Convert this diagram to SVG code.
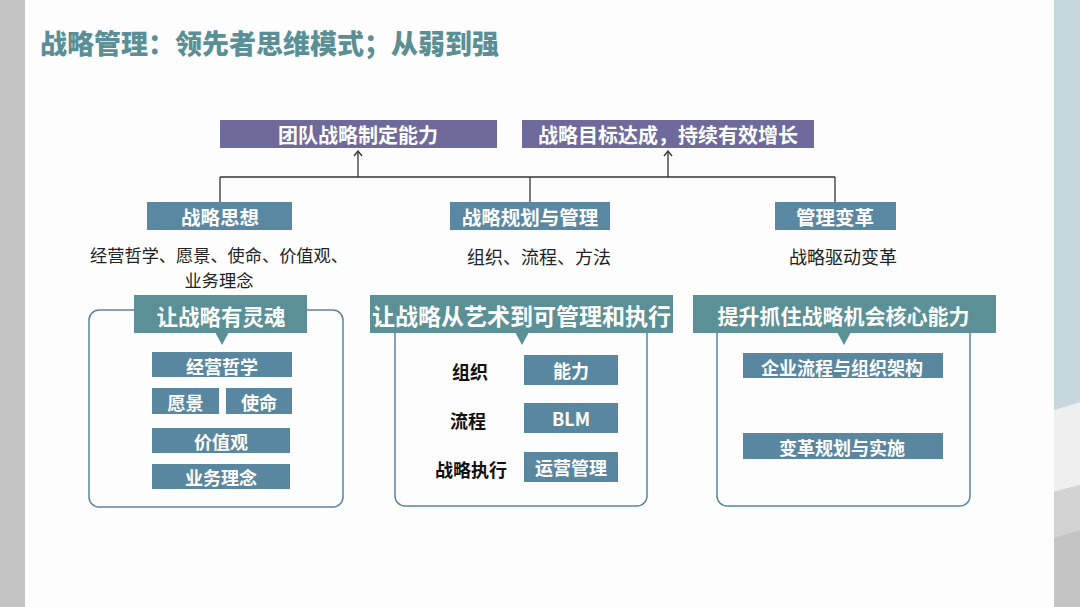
<svg xmlns="http://www.w3.org/2000/svg" width="1080" height="607" viewBox="0 0 1080 607">
<defs>
<style>
text{font-family:"Noto Sans CJK SC","Noto Sans",sans-serif;text-anchor:middle;dominant-baseline:central}
.b{font-weight:700;fill:#fff}
.purple{fill:#6e6b9c}
.l2{fill:#5a88a3}
.inner{fill:#5a87a0}
.tab{fill:#5a9096}
.panel{fill:none;stroke:#5a82a6;stroke-width:1.5}
.sub{font-size:18px;fill:#222}
.lab{font-size:18px;font-weight:700;fill:#111}
.conn{fill:none;stroke:#333;stroke-width:1.3}
</style>
<marker id="arr" viewBox="0 0 10 10" refX="9" refY="5" markerWidth="10" markerHeight="10" markerUnits="userSpaceOnUse" orient="auto">
<path d="M4,1 L9,5 L4,9" fill="none" stroke="#333" stroke-width="1.3"/>
</marker>
</defs>
<rect x="0" y="0" width="1080" height="607" fill="#fdfdfd"/>
<rect x="0" y="0" width="25" height="607" fill="#c4c4c4"/>
<rect x="1054" y="0" width="26" height="607" fill="#c4c4c4"/>
<polygon points="1054,0 1080,0 1080,402 1054,410" fill="#c6d8dd"/>
<polygon points="1054,410 1080,402 1080,485 1054,492" fill="#efefef"/>
<polygon points="1054,492 1080,485 1080,530 1054,538" fill="#d3d3d3"/>

<text x="40" y="42" style="text-anchor:start;font-size:27px;font-weight:900;fill:#5a8f95">战略管理：领先者思维模式；从弱到强</text>

<g id="connectors">
<line class="conn" x1="220" y1="177" x2="835" y2="177"/>
<line class="conn" x1="220" y1="177" x2="220" y2="203"/>
<line class="conn" x1="530" y1="177" x2="530" y2="203"/>
<line class="conn" x1="835" y1="177" x2="835" y2="203"/>
<line class="conn" x1="358" y1="177" x2="358" y2="151" marker-end="url(#arr)"/>
<line class="conn" x1="668" y1="177" x2="668" y2="151" marker-end="url(#arr)"/>
</g>

<g id="goal1">
<rect class="purple" x="220" y="120" width="277" height="28"/>
<text class="b" x="358" y="134" font-size="20">团队战略制定能力</text>
</g>
<g id="goal2">
<rect class="purple" x="522" y="120" width="292" height="28"/>
<text class="b" x="668" y="134" font-size="20">战略目标达成，持续有效增长</text>
</g>

<g id="thought">
<rect class="l2" x="147" y="202" width="145" height="28"/>
<text class="b" x="220" y="216" font-size="19.5">战略思想</text>
<text class="sub" style="font-size:17.2px"><tspan x="219" y="254">经营哲学、愿景、使命、价值观、</tspan><tspan x="219" y="279">业务理念</tspan></text>
</g>
<g id="planning">
<rect class="l2" x="450" y="202" width="160" height="28"/>
<text class="b" x="530" y="216" font-size="19.5">战略规划与管理</text>
<text class="sub" x="539" y="256">组织、流程、方法</text>
</g>
<g id="change">
<rect class="l2" x="775" y="202" width="121" height="28"/>
<text class="b" x="835" y="216" font-size="19.5">管理变革</text>
<text class="sub" x="843" y="256">战略驱动变革</text>
</g>

<g id="panel1">
<rect class="panel" x="89" y="310" width="254" height="197" rx="10"/>
<rect class="tab" x="134" y="295" width="173" height="38"/>
<polygon class="tab" points="215,332 229,332 222,345"/>
<text class="b" x="221" y="315" font-size="21.5">让战略有灵魂</text>
<rect class="inner" x="152" y="352" width="140" height="25"/>
<text class="b" x="222" y="366" font-size="18">经营哲学</text>
<rect class="inner" x="152" y="388" width="67" height="26"/>
<text class="b" x="185.5" y="402" font-size="18">愿景</text>
<rect class="inner" x="226" y="388" width="66" height="26"/>
<text class="b" x="259" y="402" font-size="18">使命</text>
<rect class="inner" x="152" y="428" width="138" height="25"/>
<text class="b" x="221" y="441" font-size="18">价值观</text>
<rect class="inner" x="152" y="464" width="138" height="25"/>
<text class="b" x="221" y="477" font-size="18">业务理念</text>
</g>

<g id="panel2">
<rect class="panel" x="395" y="310" width="252" height="196" rx="10"/>
<rect class="tab" x="370" y="295" width="303" height="38"/>
<polygon class="tab" points="515,332 529,332 522,345"/>
<text class="b" x="521.5" y="315" font-size="23">让战略从艺术到可管理和执行</text>
<text class="lab" x="470" y="371">组织</text>
<rect class="inner" x="524" y="355" width="94" height="30"/>
<text class="b" x="571" y="370" font-size="18">能力</text>
<text class="lab" x="468" y="420">流程</text>
<rect class="inner" x="524" y="403" width="94" height="30"/>
<text class="b" x="571" y="418" font-size="18">BLM</text>
<text class="lab" x="471" y="469">战略执行</text>
<rect class="inner" x="524" y="452" width="94" height="30"/>
<text class="b" x="571" y="467" font-size="18">运营管理</text>
</g>

<g id="panel3">
<rect class="panel" x="717" y="310" width="253" height="196" rx="10"/>
<rect class="tab" x="693" y="295" width="303" height="38"/>
<polygon class="tab" points="837,332 851,332 844,345"/>
<text class="b" x="843.5" y="315" font-size="21">提升抓住战略机会核心能力</text>
<rect class="inner" x="743" y="353" width="200" height="25"/>
<text class="b" x="842" y="367" font-size="18">企业流程与组织架构</text>
<rect class="inner" x="743" y="433" width="200" height="26"/>
<text class="b" x="842" y="447" font-size="18">变革规划与实施</text>
</g>
</svg>
